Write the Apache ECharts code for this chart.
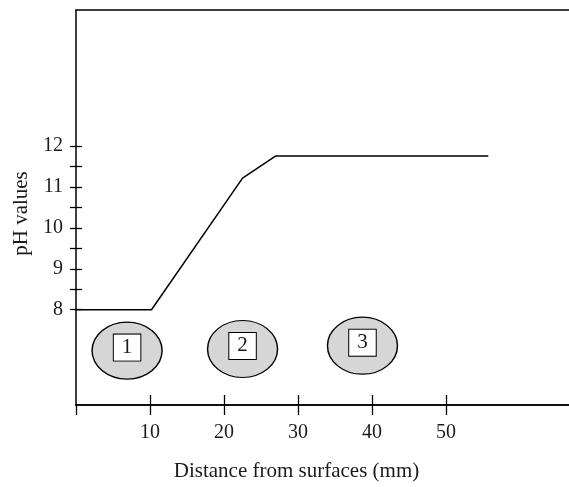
<!DOCTYPE html>
<html>
<head>
<meta charset="utf-8">
<script src="https://cdn.jsdelivr.net/npm/echarts@6/dist/echarts.min.js"></script>
<style>
html,body{margin:0;padding:0;background:#fff;}
#chart{width:569px;height:487px;}
</style>
</head>
<body>
<div id="chart"></div>
<script>
// pH profile
var distance = [0, 10.2, 22.5, 27.0, 55.7];
var phValues = [8, 8, 11.22, 11.76, 11.76];
// numbered zones
var zoneX = [6.9, 22.5, 38.7];
var zoneY = [7.0, 7.04, 7.12];
var zoneLabels = ['1', '2', '3'];
// ticks
var xTickLabels = [10, 20, 30, 40, 50];
var xOuterTicks = [0, 10, 20, 30, 40, 50];
var yTickLabels = [8, 9, 10, 11, 12];
var yTicks = [8, 8.5, 9, 9.5, 10, 10.5, 11, 11.5, 12];

var xMin = 0, xMax = 66.6, yMin = 5.67, yMax = 15.33;
var font = 'Liberation Serif';
var ink = '#1a1a1a';

var lineData = distance.map(function (d, i) { return [d, phValues[i]]; });
var zoneData = zoneX.map(function (d, i) { return { value: [d, zoneY[i]], name: zoneLabels[i] }; });

var chart = echarts.init(document.getElementById('chart'));
chart.setOption({
  animation: false,
  backgroundColor: '#fff',
  grid: { left: 76, right: 0, top: 10, bottom: 76, containLabel: false },
  xAxis: [
    {
      type: 'value', position: 'bottom', min: xMin, max: xMax,
      name: 'Distance from surfaces (mm)', nameLocation: 'middle', nameGap: 56,
      nameTextStyle: { fontFamily: font, fontSize: 21, color: ink, padding: [0, 52, 0, 0] },
      axisLine: { show: true, lineStyle: { color: '#000', width: 1.5 } },
      axisTick: { show: true, length: 10, customValues: xOuterTicks, lineStyle: { color: '#000', width: 1.3 } },
      axisLabel: { show: true, customValues: xTickLabels, margin: 18, fontFamily: font, fontSize: 20, color: ink },
      splitLine: { show: false }
    },
    {
      type: 'value', position: 'bottom', min: xMin, max: xMax,
      axisLine: { show: true, lineStyle: { color: '#000', width: 1.5 } },
      axisTick: { show: true, inside: true, length: 10, customValues: xTickLabels, lineStyle: { color: '#000', width: 1.3 } },
      axisLabel: { show: false }, splitLine: { show: false }
    },
    {
      type: 'value', position: 'top', min: xMin, max: xMax,
      axisLine: { show: true, lineStyle: { color: '#000', width: 1.5 } },
      axisTick: { show: false }, axisLabel: { show: false }, splitLine: { show: false }
    }
  ],
  yAxis: [
    {
      type: 'value', position: 'left', min: yMin, max: yMax,
      name: 'pH values', nameLocation: 'middle', nameGap: 44, nameRotate: 90,
      nameTextStyle: { fontFamily: font, fontSize: 21, color: ink, padding: [0, 12, 0, 0] },
      axisLine: { show: true, lineStyle: { color: '#000', width: 1.5 } },
      axisTick: { show: true, length: 6, customValues: yTicks, lineStyle: { color: '#000', width: 1.3 } },
      axisLabel: { show: true, customValues: yTickLabels, margin: 13, fontFamily: font, fontSize: 20, color: ink },
      splitLine: { show: false }
    },
    {
      type: 'value', position: 'left', min: yMin, max: yMax,
      axisLine: { show: false },
      axisTick: { show: true, inside: true, length: 6, customValues: yTicks, lineStyle: { color: '#000', width: 1.3 } },
      axisLabel: { show: false }, splitLine: { show: false }
    }
  ],
  series: [
    {
      type: 'line', xAxisIndex: 0, yAxisIndex: 0, data: lineData,
      showSymbol: false, symbol: 'none',
      lineStyle: { color: '#000', width: 1.5 }
    },
    {
      type: 'scatter', xAxisIndex: 0, yAxisIndex: 0, data: zoneData,
      symbol: 'path://M0,50 A50,50 0 1,1 100,50 A50,50 0 1,1 0,50 Z',
      symbolSize: [70, 57],
      itemStyle: { color: '#d6d6d6', borderColor: '#000', borderWidth: 1.3, opacity: 1 },
      label: {
        show: true, position: 'inside', offset: [0, -3],
        formatter: function (p) { return p.name; },
        fontFamily: font, fontSize: 21, color: ink,
        backgroundColor: '#fff', borderColor: '#000', borderWidth: 1,
        padding: [3, 8, 2, 8]
      }
    }
  ]
});
</script>
</body>
</html>
